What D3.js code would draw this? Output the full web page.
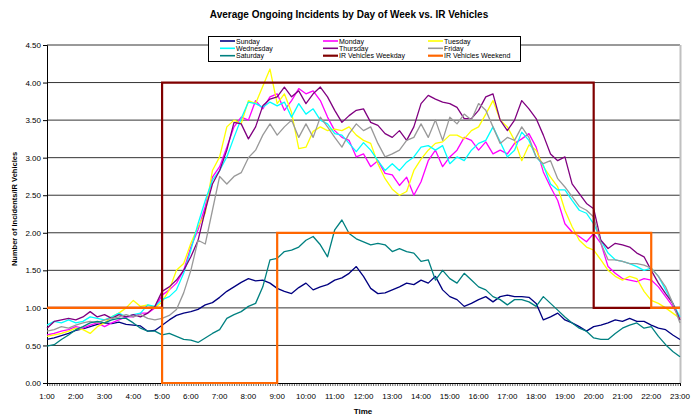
<!DOCTYPE html>
<html>
<head>
<meta charset="utf-8">
<script src="https://cdn.jsdelivr.net/npm/d3@7"></script>
<style>
  body { margin: 0; background: #fff; }
  text { font-family: "Liberation Sans", Arial, sans-serif; }
</style>
</head>
<body>
<script>
// categories: one sample every 15 minutes, from 1:00 to 23:00
var startHour = 1, stepMinutes = 15;
var hourLabels = ["1:00","2:00","3:00","4:00","5:00","6:00","7:00","8:00","9:00","10:00","11:00","12:00",
                  "13:00","14:00","15:00","16:00","17:00","18:00","19:00","20:00","21:00","22:00","23:00"];
var yTicks = [0, 0.5, 1, 1.5, 2, 2.5, 3, 3.5, 4, 4.5];

var sunday = [0.58,0.60,0.63,0.66, 0.70,0.72,0.75,0.78, 0.80,0.79,0.81,0.78, 0.77,0.76,0.69,0.70,
  0.77,0.84,0.90,0.93, 0.95,0.98,1.04,1.07, 1.14,1.22,1.28,1.34, 1.39,1.36,1.37,1.33,
  1.26,1.22,1.19,1.27, 1.33,1.24,1.28,1.31, 1.37,1.40,1.46,1.55,
  1.42,1.26,1.19,1.20, 1.24,1.28,1.33,1.31, 1.37,1.33,1.42,1.24, 1.15,1.11,1.02,1.06,
  1.11,1.15,1.08,1.15, 1.17,1.15,1.15,1.14, 1.06,0.84,0.88,0.93, 0.84,0.80,0.75,0.69,
  0.75,0.77,0.80,0.84, 0.82,0.86,0.82,0.82, 0.77,0.73,0.71,0.64, 0.58];

var monday = [0.64,0.66,0.69,0.71, 0.75,0.73,0.77,0.80, 0.75,0.80,0.84,0.88, 0.88,0.93,0.93,1.00,
  1.17,1.24,1.33,1.50, 1.81,2.04,2.35,2.74, 2.88,3.14,3.41,3.54, 3.50,3.76,3.65,3.81,
  3.85,3.63,3.76,3.92, 3.85,3.89,3.76,3.54, 3.36,3.27,3.23,3.01,
  3.05,2.88,2.96,2.79, 2.77,2.63,2.74,2.50, 2.68,2.96,3.10,2.88, 3.01,3.10,3.27,3.23,
  3.10,3.21,3.05,3.10, 3.05,3.19,3.25,3.32, 3.14,2.81,2.61,2.43, 2.12,2.01,1.95,1.88,
  1.99,1.86,1.55,1.46, 1.39,1.37,1.35,1.39, 1.37,1.28,1.15,1.02, 0.86];

var tuesday = [0.62,0.64,0.66,0.69, 0.73,0.71,0.66,0.75, 0.80,0.88,0.93,1.00, 1.10,1.02,1.04,1.00,
  1.08,1.24,1.50,1.59, 1.86,2.08,2.26,2.83, 3.01,3.41,3.50,3.45, 3.76,3.72,3.95,4.18,
  3.72,3.85,3.60,3.12, 3.14,3.35,3.41,3.36, 3.38,3.36,3.41,3.30,
  3.23,3.19,2.92,2.72, 2.58,2.50,2.55,2.83, 2.98,3.10,3.19,3.21, 3.30,3.30,3.25,3.36,
  3.41,3.58,3.76,3.50, 3.41,3.23,2.96,3.17, 3.10,2.88,2.74,2.61, 2.30,2.08,1.90,1.81,
  1.77,1.64,1.50,1.42, 1.37,1.42,1.39,1.22, 1.10,1.06,1.00,0.93, 0.86];

var wednesday = [0.77,0.82,0.80,0.84, 0.80,0.82,0.88,0.86, 0.84,0.88,0.93,0.88, 0.91,0.93,1.04,1.02,
  1.11,1.15,1.24,1.46, 1.77,2.12,2.43,2.70, 2.83,3.01,3.27,3.52, 3.74,3.72,3.67,3.74,
  3.69,3.74,3.54,3.72, 3.58,3.65,3.50,3.45, 3.32,3.30,3.19,3.08,
  3.20,3.10,2.96,2.83, 2.92,2.83,2.94,3.01, 3.14,3.16,3.10,3.16, 2.92,3.01,2.96,3.10,
  3.19,3.23,3.41,3.21, 3.01,3.10,3.34,3.23, 3.01,2.90,2.65,2.57, 2.57,2.43,2.30,2.26,
  2.12,1.90,1.73,1.64, 1.62,1.59,1.55,1.50, 1.53,1.42,1.24,1.06, 0.88];

var thursday = [0.73,0.82,0.84,0.86, 0.84,0.88,0.95,0.88, 0.91,0.86,0.91,0.88, 0.91,0.88,0.93,1.02,
  1.22,1.28,1.37,1.50, 1.68,1.90,2.30,2.65, 2.83,3.10,3.47,3.45, 3.25,3.41,3.69,3.78,
  3.81,3.94,3.81,3.89, 3.72,3.85,3.94,3.81, 3.63,3.47,3.56,3.63,
  3.65,3.47,3.43,3.32, 3.27,3.36,3.23,3.41, 3.72,3.83,3.78,3.74, 3.72,3.67,3.52,3.52,
  3.63,3.81,3.85,3.50, 3.36,3.50,3.76,3.65, 3.52,3.30,3.05,2.96, 3.01,2.65,2.52,2.39,
  2.32,1.90,1.79,1.86, 1.84,1.81,1.73,1.68, 1.50,1.33,1.19,1.06, 0.84];

var friday = [0.69,0.71,0.75,0.73, 0.77,0.80,0.82,0.80, 0.84,0.86,0.88,0.91, 0.88,0.91,0.86,0.84,
  0.86,0.90,0.98,1.20, 1.50,1.90,1.85,2.30, 2.75,2.65,2.75,2.80, 3.00,3.10,3.30,3.45,
  3.30,3.41,3.50,3.27, 3.45,3.27,3.54,3.41, 3.27,3.14,3.32,3.45,
  3.36,3.41,3.19,3.01, 3.05,3.10,3.23,3.27, 3.45,3.27,3.50,3.23, 3.54,3.45,3.58,3.50,
  3.72,3.63,3.41,3.19, 3.27,3.23,3.41,3.27, 3.01,2.92,2.96,2.72, 2.61,2.48,2.35,2.30,
  2.21,1.86,1.64,1.64, 1.62,1.59,1.59,1.57, 1.53,1.42,1.28,1.06, 0.80];

var saturday = [0.49,0.51,0.58,0.64, 0.71,0.75,0.80,0.82, 0.80,0.84,0.86,0.86, 0.80,0.73,0.69,0.69,
  0.64,0.66,0.62,0.58, 0.57,0.54,0.60,0.66, 0.71,0.86,0.91,0.95, 1.02,1.06,1.28,1.64,
  1.66,1.75,1.77,1.81, 1.90,1.95,1.84,1.68, 2.04,2.17,1.99,1.92,
  1.88,1.84,1.86,1.84, 1.75,1.79,1.75,1.73, 1.62,1.64,1.37,1.50, 1.39,1.33,1.46,1.37,
  1.28,1.24,1.15,1.11, 1.04,1.11,1.11,1.08, 1.02,1.15,1.06,0.97, 0.88,0.80,0.73,0.69,
  0.60,0.58,0.58,0.66, 0.73,0.77,0.80,0.73, 0.75,0.62,0.51,0.42, 0.35];

// IR vehicles: step values that start at the given times
var irWeekdayTimes = ["1:00","5:00","20:00","23:00"];
var irWeekday = [1, 4, 1, 1];
var irWeekendTimes = ["1:00","5:00","9:00","22:00","23:00"];
var irWeekend = [1, 0, 2, 1, 1];

var seriesNames = ["Sunday","Monday","Tuesday","Wednesday","Thursday","Friday","Saturday",
                   "IR Vehicles Weekday","IR Vehicles Weekend"];
var seriesColors = ["#000080","#FF00FF","#FFFF00","#00FFFF","#800080","#999999","#008080",
                    "#800000","#FF6600"];

function toHours(s) { var p = s.split(":"); return +p[0] + (+p[1]) / 60; }

var width = 699, height = 417;
var svg = d3.select("body").append("svg")
  .attr("width", width).attr("height", height);

var x = d3.scaleLinear().domain([1, 23]).range([47, 680]);
var y = d3.scaleLinear().domain([0, 4.5]).range([383, 45]);

// titulo
svg.append("text")
  .attr("x", 349).attr("y", 18)
  .attr("text-anchor", "middle")
  .style("font-size", "10px").style("font-weight", "bold")
  .text("Average Ongoing Incidents by Day of Week vs. IR Vehicles");

// lineas de la rejilla
svg.append("g").selectAll("line")
  .data(yTicks.slice(1))
  .enter().append("line")
  .attr("x1", x(1)).attr("x2", x(23))
  .attr("y1", d => y(d)).attr("y2", d => y(d))
  .attr("stroke", "#000").attr("stroke-width", 0.8);

// borde derecho del area
svg.append("line")
  .attr("x1", x(23) + 0.5).attr("x2", x(23) + 0.5)
  .attr("y1", y(4.5)).attr("y2", y(0))
  .attr("stroke", "#c0c0c0").attr("stroke-width", 2);

// eje Y
var yAxis = svg.append("g")
  .attr("transform", "translate(" + x(1) + ",0)")
  .call(d3.axisLeft(y).tickValues(yTicks).tickSize(4).tickPadding(2).tickFormat(d3.format(".2f")));
yAxis.selectAll("text").style("font-size", "8px").attr("fill", "#000");
yAxis.selectAll("line").attr("stroke", "#000");
yAxis.select(".domain").attr("stroke", "#000");

// eje X con una marca cada 5 minutos
var xAxis = svg.append("g")
  .attr("transform", "translate(0," + y(0) + ")")
  .call(d3.axisBottom(x).tickValues(d3.range(0, 265).map(i => 1 + i / 12))
    .tickSize(3).tickFormat(""));
xAxis.selectAll("line").attr("stroke", "#000").attr("stroke-width", 0.6);
xAxis.select(".domain").attr("stroke", "#000");

svg.append("g").selectAll("text")
  .data(hourLabels)
  .enter().append("text")
  .attr("x", d => x(toHours(d)))
  .attr("y", 399)
  .attr("text-anchor", "middle")
  .style("font-size", "8px")
  .text(d => d);

// titulos de ejes
svg.append("text")
  .attr("x", 363).attr("y", 414)
  .attr("text-anchor", "middle")
  .style("font-size", "8px").style("font-weight", "bold")
  .text("Time");

svg.append("text")
  .attr("transform", "translate(17,209) rotate(-90)")
  .attr("text-anchor", "middle")
  .style("font-size", "7.5px").style("font-weight", "bold")
  .text("Number of Incidents/IR Vehicles");

// series de dias
var days = [sunday, monday, tuesday, wednesday, thursday, friday, saturday];
var line = d3.line()
  .x((d, i) => x(startHour + i * stepMinutes / 60))
  .y(d => y(d));

svg.append("g").selectAll("path")
  .data(days)
  .enter().append("path")
  .attr("fill", "none")
  .attr("stroke", (d, i) => seriesColors[i])
  .attr("stroke-width", 1.3)
  .attr("stroke-linejoin", "round")
  .attr("d", line);

// vehiculos IR (escalones)
var step = d3.line().curve(d3.curveStepAfter)
  .x(d => x(toHours(d[0])))
  .y(d => y(d[1]));

svg.append("path")
  .datum(d3.zip(irWeekdayTimes, irWeekday))
  .attr("fill", "none").attr("stroke", seriesColors[7]).attr("stroke-width", 2.2)
  .attr("d", step);

svg.append("path")
  .datum(d3.zip(irWeekendTimes, irWeekend))
  .attr("fill", "none").attr("stroke", seriesColors[8]).attr("stroke-width", 2.2)
  .attr("d", step);

// leyenda
var legend = svg.append("g");
legend.append("rect")
  .attr("x", 208.5).attr("y", 36.5).attr("width", 312).attr("height", 25)
  .attr("fill", "#fff").attr("stroke", "#000").attr("stroke-width", 1);

var colX = [220, 323, 428], rowY = [41, 48.3, 55.7];
var items = legend.selectAll("g.item")
  .data(seriesNames)
  .enter().append("g")
  .attr("class", "item")
  .attr("transform", (d, i) => "translate(" + colX[i % 3] + "," + rowY[Math.floor(i / 3)] + ")");

items.append("line")
  .attr("x1", 0).attr("x2", 15).attr("y1", 0).attr("y2", 0)
  .attr("stroke", (d, i) => seriesColors[i])
  .attr("stroke-width", (d, i) => i > 6 ? 2.2 : 1.6);

items.append("text")
  .attr("x", 16).attr("y", 2.5)
  .style("font-size", "7px")
  .text(d => d);
</script>
</body>
</html>
